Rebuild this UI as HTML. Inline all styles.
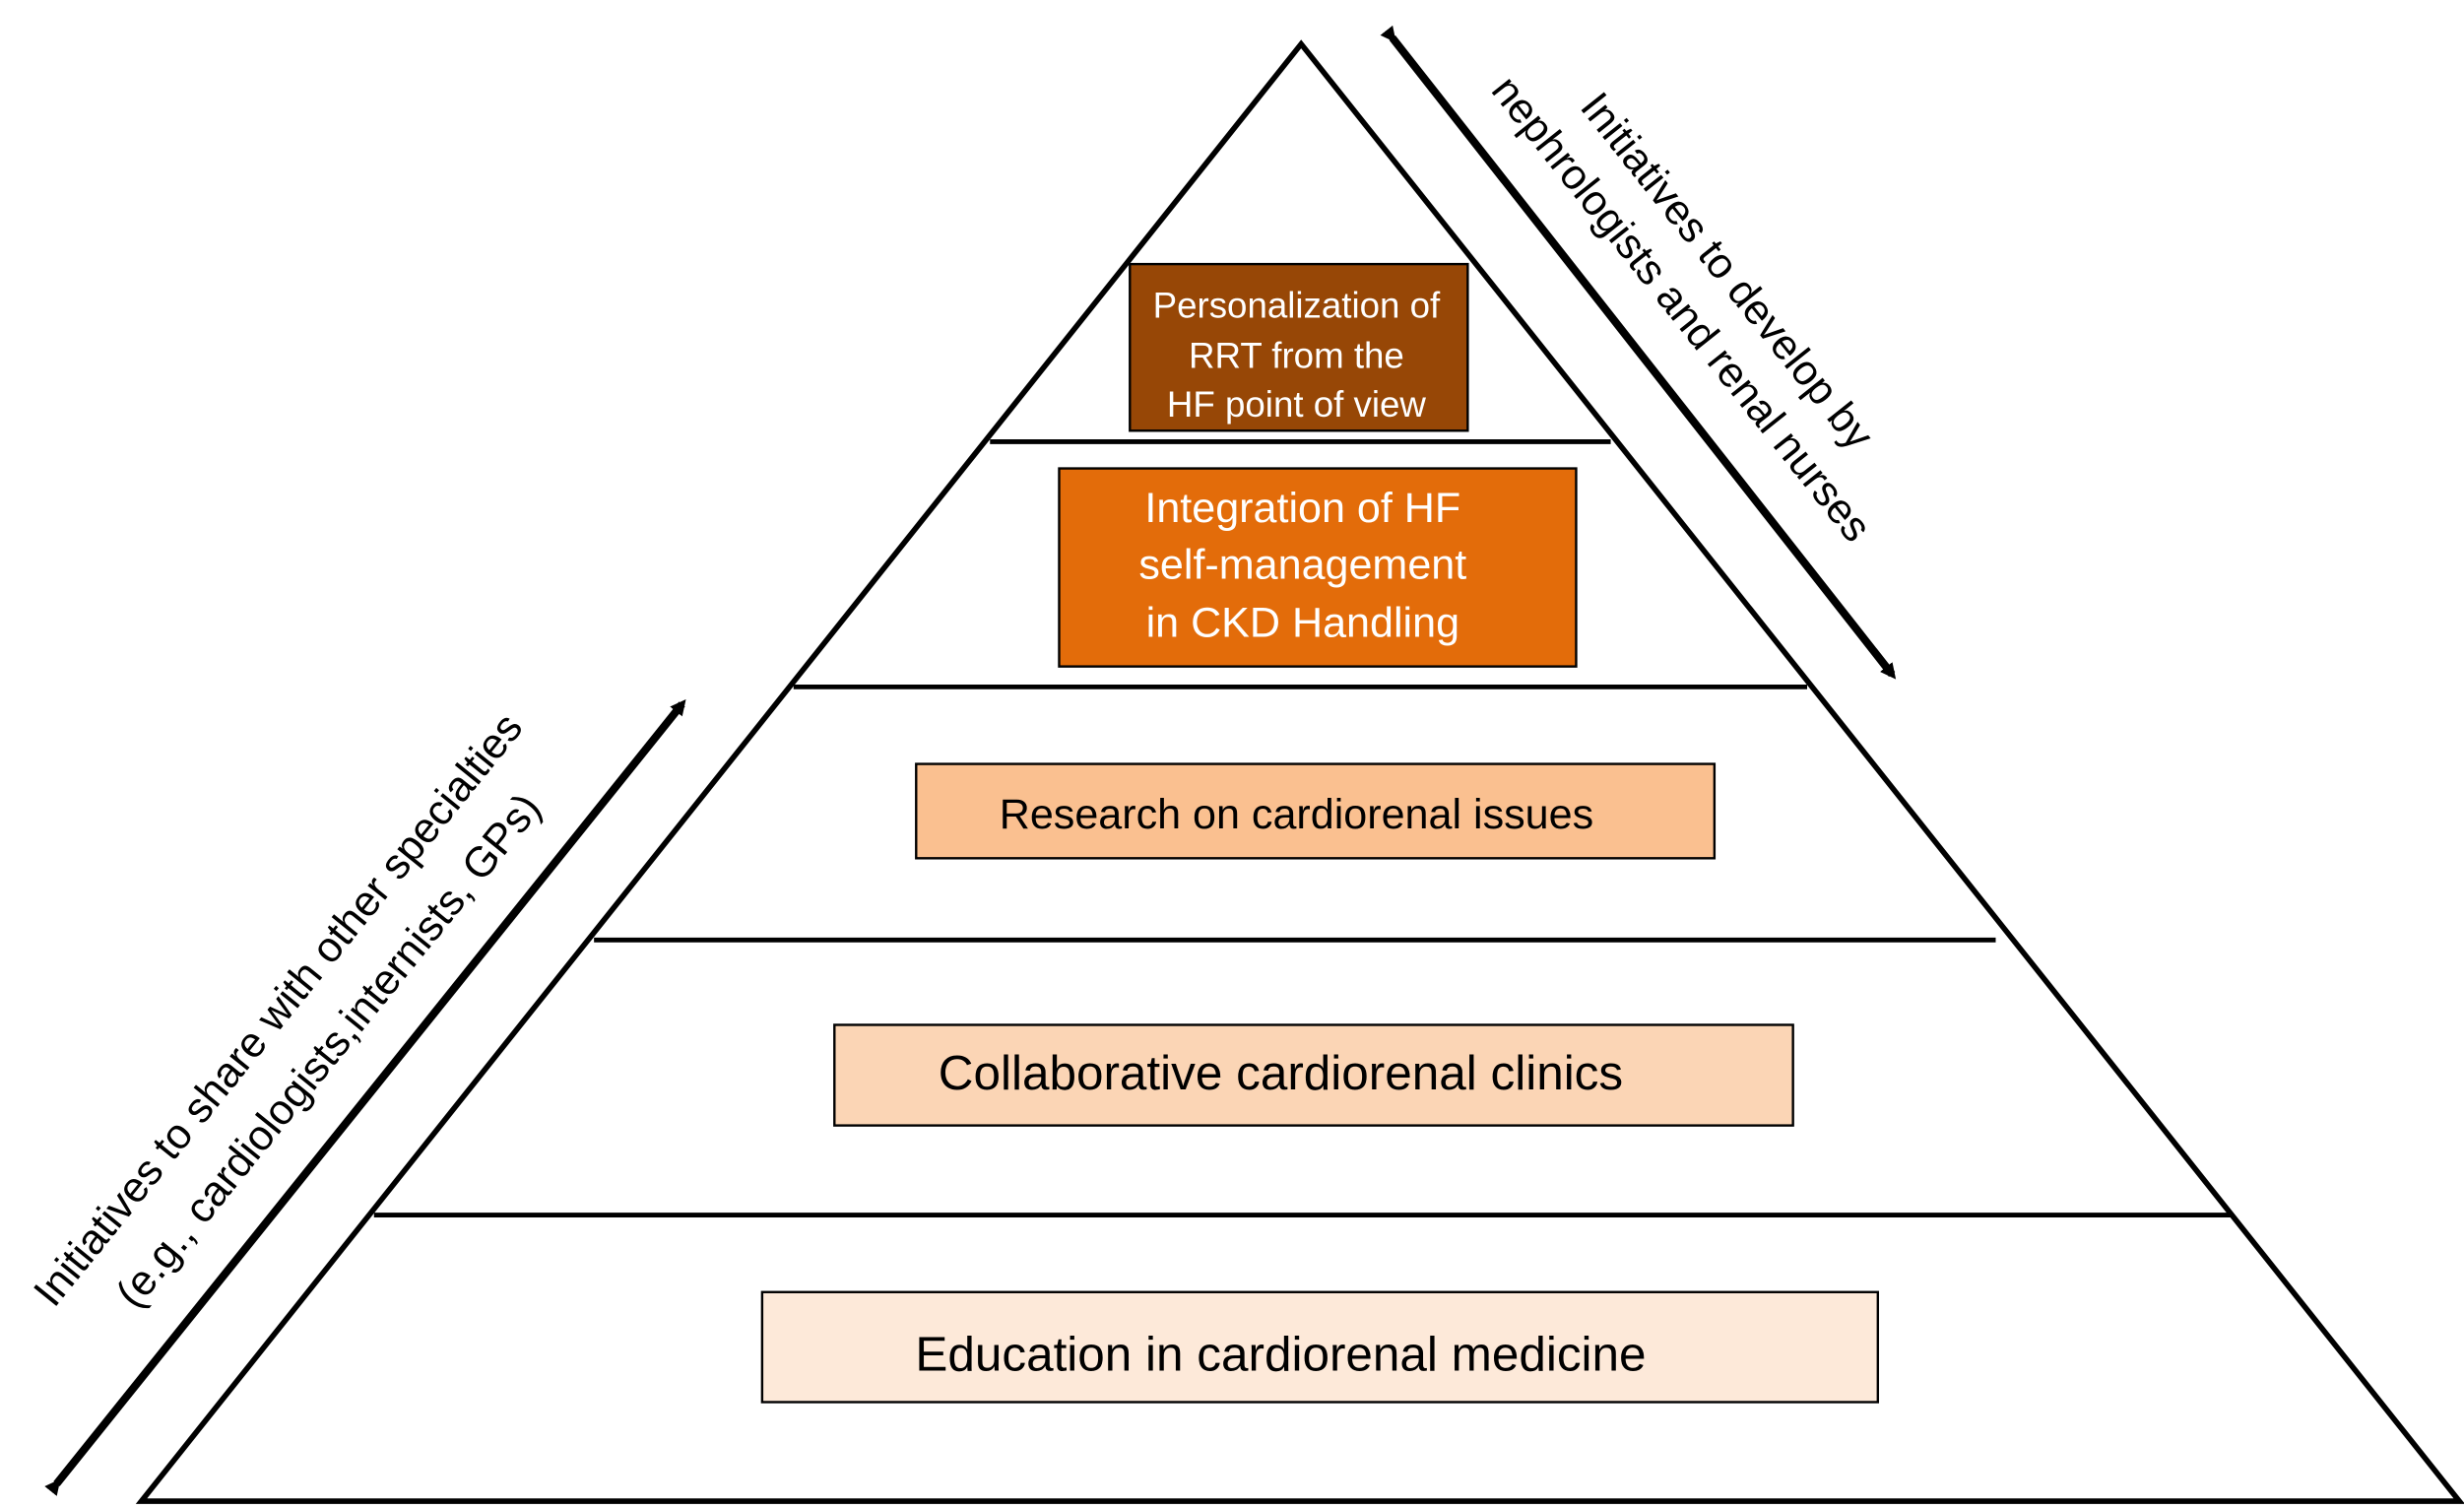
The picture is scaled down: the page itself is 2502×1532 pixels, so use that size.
<!DOCTYPE html>
<html><head><meta charset="utf-8"><style>
html,body{margin:0;padding:0;background:#fff;}
svg{display:block;}
text{font-family:"Liberation Sans",Arial,sans-serif;}
</style></head><body>
<svg width="2502" height="1532" viewBox="0 0 1568 960" preserveAspectRatio="none" xmlns="http://www.w3.org/2000/svg">
<defs>
<marker id="ah" markerWidth="10" markerHeight="10" refX="6" refY="5" orient="auto" markerUnits="userSpaceOnUse" viewBox="0 0 10 10">
<path d="M0,0 L10,5 L0,10 Z" fill="#000"/>
</marker>
</defs>
<polygon points="828,28 90,955 1565,955" fill="#fff" stroke="#000" stroke-width="3.5" stroke-linejoin="miter"/>
<line x1="630" y1="281" x2="1025" y2="281" stroke="#000" stroke-width="3"/>
<line x1="505" y1="437" x2="1150" y2="437" stroke="#000" stroke-width="3"/>
<line x1="378" y1="598" x2="1270" y2="598" stroke="#000" stroke-width="3"/>
<line x1="238" y1="773" x2="1420" y2="773" stroke="#000" stroke-width="3"/>

<rect x="719" y="168" width="215" height="106" fill="#974706" stroke="#000" stroke-width="1.5"/>
<g fill="#fff" font-size="23" text-anchor="middle">
<text x="825" y="202">Personalization of</text>
<text x="825" y="234">RRT from the</text>
<text x="825" y="265">HF point of view</text>
</g>
<rect x="674" y="298" width="329" height="126" fill="#e36c0a" stroke="#000" stroke-width="1.5"/>
<g fill="#fff" font-size="27" text-anchor="middle">
<text x="829" y="332">Integration of HF</text>
<text x="829" y="368">self-management</text>
<text x="829" y="405">in CKD Handling</text>
</g>
<rect x="583" y="486" width="508" height="60" fill="#fac090" stroke="#000" stroke-width="1.5"/>
<text x="825" y="527" font-size="27" text-anchor="middle">Research on cardiorenal issues</text>
<rect x="531" y="652" width="610" height="64" fill="#fbd5b5" stroke="#000" stroke-width="1.5"/>
<text x="815" y="693" font-size="31" text-anchor="middle">Collaborative cardiorenal clinics</text>
<rect x="485" y="822" width="710" height="70" fill="#fde9d9" stroke="#000" stroke-width="1.5"/>
<text x="815" y="872" font-size="31" text-anchor="middle">Education in cardiorenal medicine</text>

<line x1="36" y1="944" x2="434" y2="448" stroke="#000" stroke-width="5" marker-start="url(#ah)" marker-end="url(#ah)"/>
<line x1="886" y1="24" x2="1204" y2="429" stroke="#000" stroke-width="5" marker-start="url(#ah)" marker-end="url(#ah)"/>

<g font-size="27" text-anchor="middle">
<text transform="translate(184,648) rotate(-51)">Initiatives to share with other specialties</text>
<text transform="translate(216,674) rotate(-51)">(e.g., cardiologists,internists, GPs)</text>
<text transform="translate(1092,178) rotate(51.5)">Initiatives to develop by</text>
<text transform="translate(1063,202) rotate(51.5)">nephrologists and renal nurses</text>
</g>
</svg>
</body></html>
